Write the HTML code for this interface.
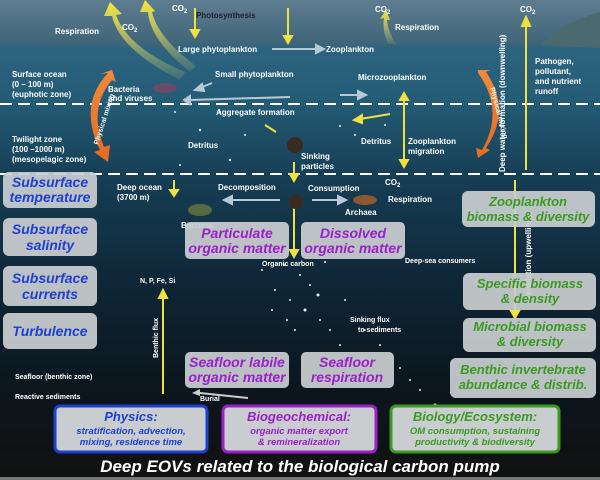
<!DOCTYPE html>
<html><head><meta charset="utf-8"><style>
html,body{margin:0;padding:0;background:#111}
svg{display:block}
.l{font-family:"Liberation Sans",sans-serif;font-size:8px;fill:#fff;font-weight:bold}
.b{font-family:"Liberation Sans",sans-serif;font-weight:bold;font-style:italic;text-anchor:middle}
</style></head><body>
<svg width="600" height="480" viewBox="0 0 600 480" xmlns="http://www.w3.org/2000/svg">
<defs>
<linearGradient id="bg" x1="0" y1="0" x2="0" y2="1">
<stop offset="0" stop-color="#5f7d90"/><stop offset="0.09" stop-color="#3f6579"/>
<stop offset="0.1" stop-color="#2d6480"/><stop offset="0.22" stop-color="#235a74"/>
<stop offset="0.37" stop-color="#163e55"/><stop offset="0.6" stop-color="#0e2535"/>
<stop offset="0.82" stop-color="#0c151c"/><stop offset="1" stop-color="#111"/>
</linearGradient>
<linearGradient id="yl" x1="0" y1="1" x2="0" y2="0">
<stop offset="0" stop-color="#e8e070" stop-opacity="0.1"/><stop offset="1" stop-color="#f5e83a"/>
</linearGradient>
<linearGradient id="og" x1="0" y1="0" x2="0" y2="1">
<stop offset="0" stop-color="#f08a3a"/><stop offset="1" stop-color="#e86a20"/>
</linearGradient>
</defs>
<rect width="600" height="480" fill="url(#bg)"/>
<path d="M540 45 L565 25 L590 15 L600 12 L600 48 Z" fill="#4a6a70"/>
<line x1="0" y1="104" x2="600" y2="104" stroke="#fff" stroke-width="2" stroke-dasharray="12,6"/>
<line x1="0" y1="174" x2="600" y2="174" stroke="#fff" stroke-width="2" stroke-dasharray="12,6"/>
<path d="M180 80 Q120 50 112 16 L104 16 L110 2 L122 14 L116 15 Q128 48 185 72 Z" fill="url(#yl)"/>
<path d="M190 72 Q150 40 148 12 L140 12 L145 0 L155 11 L152 12 Q158 38 196 66 Z" fill="url(#yl)"/>
<path d="M388 44 Q382 30 384 18 L380 19 L386 10 L390 20 L387 20 Q388 32 396 44 Z" fill="url(#yl)"/>
<g stroke="#f0e040" stroke-width="2" fill="#f0e040">
<line x1="195" y1="8" x2="195" y2="32"/><polygon points="191,30 199,30 195,37"/>
<line x1="288" y1="8" x2="288" y2="38"/><polygon points="284,36 292,36 288,43"/>
<line x1="526" y1="25" x2="526" y2="170"/><polygon points="522,26 530,26 526,17"/>
<line x1="515" y1="180" x2="515" y2="313"/><polygon points="511,311 519,311 515,318"/>
<line x1="404" y1="100" x2="404" y2="160"/><polygon points="400,100 408,100 404,93"/><polygon points="400,160 408,160 404,167"/>
<line x1="294" y1="162" x2="294" y2="176"/><polygon points="290,174 298,174 294,181"/>
<line x1="294" y1="200" x2="294" y2="252"/><polygon points="290,250 298,250 294,257"/>
<line x1="174" y1="180" x2="174" y2="192"/><polygon points="170,190 178,190 174,196"/>
<line x1="163" y1="296" x2="163" y2="394"/><polygon points="159,298 167,298 163,290"/>
<line x1="265" y1="125" x2="276" y2="132"/>
<line x1="390" y1="114" x2="360" y2="119"/><polygon points="362,115 362,123 354,120"/>
</g>
<g stroke="#b8c8d4" stroke-width="2" fill="#b8c8d4">
<line x1="272" y1="49" x2="318" y2="49"/><polygon points="316,45 324,49 316,53"/>
<line x1="190" y1="100" x2="290" y2="97"/><polygon points="190,96 184,100 190,104"/>
<line x1="212" y1="83" x2="200" y2="88"/><polygon points="202,84 195,90 204,91"/>
<line x1="230" y1="200" x2="280" y2="200"/><polygon points="232,196 224,200 232,204"/>
<line x1="312" y1="200" x2="340" y2="200"/><polygon points="338,196 346,200 338,204"/>
<line x1="340" y1="95" x2="360" y2="95"/><polygon points="358,91 366,95 358,99"/>
</g>
<path d="M108 73 Q78 105 100 150 L94 152 L108 162 L110 145 L104 147 Q88 108 112 80 L116 82 L112 70 L100 74 Z" fill="url(#og)"/>
<path d="M478 73 Q505 110 482 150 L476 148 L478 158 L490 150 L486 148 Q512 110 486 72 L490 70 L478 70 Z" fill="url(#og)"/>
<g fill="#e8f0f4">
<circle cx="255" cy="245" r="1"/><circle cx="262" cy="270" r="1"/><circle cx="275" cy="290" r="1"/><circle cx="290" cy="300" r="1"/><circle cx="305" cy="310" r="1.5"/><circle cx="320" cy="320" r="1"/><circle cx="330" cy="330" r="1"/><circle cx="340" cy="345" r="1"/><circle cx="310" cy="285" r="1"/><circle cx="300" cy="275" r="1"/><circle cx="285" cy="265" r="1"/><circle cx="325" cy="262" r="1"/><circle cx="318" cy="295" r="1.5"/><circle cx="295" cy="330" r="1"/><circle cx="345" cy="300" r="1"/><circle cx="365" cy="330" r="1"/><circle cx="380" cy="345" r="1"/><circle cx="410" cy="380" r="1"/><circle cx="420" cy="390" r="1"/><circle cx="435" cy="405" r="1.5"/><circle cx="400" cy="368" r="1"/><circle cx="272" cy="310" r="1"/><circle cx="287" cy="320" r="1"/><circle cx="350" cy="360" r="1"/><circle cx="230" cy="160" r="1.2"/><circle cx="200" cy="130" r="1.2"/><circle cx="175" cy="112" r="1"/><circle cx="245" cy="135" r="1"/><circle cx="220" cy="112" r="1"/><circle cx="340" cy="126" r="1"/><circle cx="355" cy="135" r="1"/><circle cx="385" cy="125" r="1"/><circle cx="180" cy="165" r="1"/>
</g>
<circle cx="295" cy="145" r="8" fill="#3a2a20"/><circle cx="296" cy="202" r="7" fill="#3a2a20"/>
<ellipse cx="365" cy="200" rx="12" ry="5" fill="#8a5a30"/>
<ellipse cx="165" cy="88" rx="12" ry="5" fill="#6a4a6a"/>
<ellipse cx="200" cy="210" rx="12" ry="6" fill="#5a6a40"/>
<g class="l">
<text x="55" y="34">Respiration</text>
<text x="122" y="30">CO<tspan font-size="6" dy="2">2</tspan></text>
<text x="172" y="11">CO<tspan font-size="6" dy="2">2</tspan></text>
<text x="196" y="18" style="fill:#1a2030">Photosynthesis</text>
<text x="178" y="52">Large phytoplankton</text>
<text x="326" y="52">Zooplankton</text>
<text x="215" y="77">Small phytoplankton</text>
<text x="358" y="80">Microzooplankton</text>
<text x="12" y="77">Surface ocean</text><text x="12" y="87">(0 – 100 m)</text><text x="12" y="97">(euphotic zone)</text>
<text x="108" y="92">Bacteria</text><text x="108" y="101">and viruses</text>
<text x="216" y="115">Aggregate formation</text>
<text x="12" y="142">Twilight zone</text><text x="12" y="152">(100 –1000 m)</text><text x="12" y="162">(mesopelagic zone)</text>
<text x="188" y="148">Detritus</text>
<text x="301" y="159">Sinking</text><text x="301" y="169">particles</text>
<text x="361" y="144">Detritus</text>
<text x="408" y="144">Zooplankton</text><text x="408" y="154">migration</text>
<text x="375" y="12">CO<tspan font-size="6" dy="2">2</tspan></text>
<text x="395" y="30">Respiration</text>
<text x="520" y="12">CO<tspan font-size="6" dy="2">2</tspan></text>
<text x="535" y="64">Pathogen,</text><text x="535" y="74">pollutant,</text><text x="535" y="84">and nutrient</text><text x="535" y="94">runoff</text>
<text x="117" y="190">Deep ocean</text><text x="117" y="200">(3700 m)</text>
<text x="218" y="190">Decomposition</text>
<text x="308" y="191">Consumption</text>
<text x="385" y="185">CO<tspan font-size="6" dy="2">2</tspan></text>
<text x="388" y="202">Respiration</text>
<text x="345" y="215">Archaea</text>
<text x="181" y="228">Bacteria</text>
<text x="262" y="266" font-size="7">Organic carbon</text>
<text x="405" y="263" font-size="7">Deep-sea consumers</text>
<text x="140" y="283" font-size="7">N, P, Fe, Si</text>
<text x="350" y="322" font-size="7">Sinking flux</text><text x="358" y="332" font-size="7">to sediments</text>
<text x="15" y="379" font-size="7">Seafloor (benthic zone)</text>
<text x="15" y="399" font-size="7">Reactive sediments</text>
<text x="200" y="401" font-size="7">Burial</text>
<text transform="translate(158,358) rotate(-90)" font-size="7">Benthic flux</text>
<text transform="translate(505,172) rotate(-90)" font-size="8">Deep water formation (downwelling)</text>
<text transform="translate(531,300) rotate(-90)" font-size="8">Ventilation (upwelling)</text>
<text transform="translate(98,145) rotate(-72)" font-size="7">Physical mixing</text>
<text transform="translate(490,88) rotate(75)" font-size="7">Physical mixing</text>
</g>
<line x1="248" y1="398" x2="200" y2="393" stroke="#ccc" stroke-width="2"/><polygon points="200,389 192,393 200,396" fill="#ccc"/>
<g fill="#c9cdd0" fill-opacity="0.93">
<rect x="3" y="172" width="94" height="36" rx="6"/>
<rect x="3" y="218" width="94" height="38" rx="6"/>
<rect x="3" y="266" width="94" height="40" rx="6"/>
<rect x="3" y="313" width="94" height="36" rx="6"/>
<rect x="185" y="222" width="104" height="37" rx="5"/>
<rect x="301" y="222" width="104" height="37" rx="5"/>
<rect x="185" y="352" width="104" height="36" rx="5"/>
<rect x="301" y="352" width="93" height="36" rx="5"/>
<rect x="462" y="191" width="133" height="36" rx="6"/>
<rect x="463" y="273" width="133" height="37" rx="6"/>
<rect x="463" y="318" width="133" height="34" rx="6"/>
<rect x="450" y="358" width="146" height="40" rx="6"/>
</g>
<rect x="55" y="406" width="152" height="46" rx="5" fill="#c9cdd0" stroke="#1e3fd0" stroke-width="3"/>
<rect x="223" y="406" width="153" height="46" rx="5" fill="#c9cdd0" stroke="#9a20c8" stroke-width="3"/>
<rect x="391" y="406" width="168" height="46" rx="5" fill="#c9cdd0" stroke="#3a9a20" stroke-width="3"/>
<g class="b" fill="#1e3fd0" font-size="14">
<text x="50" y="187">Subsurface</text><text x="50" y="202">temperature</text>
<text x="50" y="234">Subsurface</text><text x="50" y="250">salinity</text>
<text x="50" y="283">Subsurface</text><text x="50" y="299">currents</text>
<text x="50" y="336">Turbulence</text>
<text x="131" y="421" font-size="13">Physics:</text>
<text x="131" y="434" font-size="9.5">stratification, advection,</text>
<text x="131" y="445" font-size="9.5">mixing, residence time</text>
</g>
<g class="b" fill="#9a20c8" font-size="14">
<text x="237" y="238">Particulate</text><text x="237" y="253">organic matter</text>
<text x="353" y="238">Dissolved</text><text x="353" y="253">organic matter</text>
<text x="237" y="367">Seafloor labile</text><text x="237" y="382">organic matter</text>
<text x="347" y="367">Seafloor</text><text x="347" y="382">respiration</text>
<text x="299" y="421" font-size="13">Biogeochemical:</text>
<text x="299" y="434" font-size="9.5">organic matter export</text>
<text x="299" y="445" font-size="9.5">&amp; remineralization</text>
</g>
<g class="b" fill="#3a9a20" font-size="13">
<text x="528" y="206">Zooplankton</text><text x="528" y="221">biomass &amp; diversity</text>
<text x="530" y="288">Specific biomass</text><text x="530" y="303">&amp; density</text>
<text x="530" y="331">Microbial biomass</text><text x="530" y="346">&amp; diversity</text>
<text x="523" y="374">Benthic invertebrate</text><text x="523" y="389">abundance &amp; distrib.</text>
<text x="475" y="421">Biology/Ecosystem:</text>
<text x="475" y="434" font-size="9.5">OM consumption, sustaining</text>
<text x="475" y="445" font-size="9.5">productivity &amp; biodiversity</text>
</g>
<text class="b" x="300" y="472" font-size="17" fill="#fff">Deep EOVs related to the biological carbon pump</text>
<rect x="0" y="477" width="600" height="3" fill="#777"/>
</svg>
</body></html>
